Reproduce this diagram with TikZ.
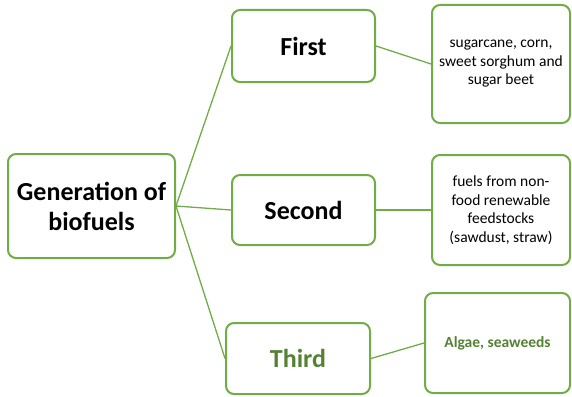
\documentclass[tikz,border=0pt]{standalone}
\usepackage{fontspec}
\setmainfont{Carlito}
\definecolor{leafgreen}{HTML}{70AD47}
\definecolor{darkleaf}{HTML}{548235}
\begin{document}
\begin{tikzpicture}[x=1pt,y=-1pt]
      \useasboundingbox (0,0) rectangle (572,396);

      \begin{scope}[every node/.style={rectangle,rounded corners=8pt,draw=leafgreen,
          line width=2pt,align=center,inner sep=2pt}]
        \node[minimum width=167pt,minimum height=104pt,font=\fontsize{26}{30}\selectfont\bfseries]
          (gen)    at (91.5,206)  {Generation of\\biofuels};
        \node[minimum width=143pt,minimum height=72pt,font=\fontsize{26}{30}\selectfont\bfseries]
          (first)  at (303.5,46)  {First};
        \node[minimum width=143pt,minimum height=70pt,font=\fontsize{26}{30}\selectfont\bfseries]
          (second) at (303.5,210) {Second};
        \node[minimum width=144pt,minimum height=71pt,text=darkleaf,font=\fontsize{26}{30}\selectfont\bfseries]
          (third)  at (298,358.5) {Third};
        \node[minimum width=138pt,minimum height=118pt,font=\fontsize{15.5}{18.5}\selectfont]
          (sugar)  at (501,64)    {sugarcane, corn,\\sweet sorghum and\\sugar beet};
        \node[minimum width=138pt,minimum height=110pt,font=\fontsize{15.5}{18.5}\selectfont]
          (waste)  at (501,210)   {fuels from non-\\food renewable\\feedstocks\\(sawdust, straw)};
        \node[minimum width=145pt,minimum height=100pt,text=darkleaf,font=\fontsize{15.5}{18.5}\selectfont\bfseries]
          (algae)  at (497.5,343) {Algae, seaweeds};
      \end{scope}

      \begin{scope}[every edge/.style={draw=leafgreen,line width=1.3pt}]
        \path (gen.east)    edge (first.west);
        \path (gen.east)    edge (second.west);
        \path (gen.east)    edge (third.west);
        \path (first.east)  edge (sugar.west);
        \path (second.east) edge (waste.west);
        \path (third.east)  edge (algae.west);
      \end{scope}

\end{tikzpicture}
\end{document}
